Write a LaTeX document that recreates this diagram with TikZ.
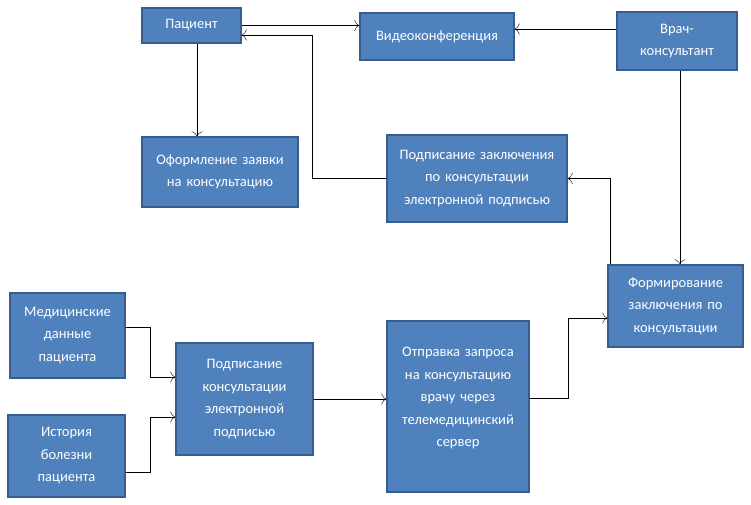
\documentclass[tikz,border=0pt]{standalone}
\usepackage{fontspec}
\setmainfont{Carlito}
\usepackage{xcolor}
\usetikzlibrary{positioning}
\usetikzlibrary{shapes, arrows.meta}
\definecolor{boxblue}{HTML}{4F81BD}
\definecolor{boxedge}{HTML}{385D8A}
\tikzstyle{block} = [rectangle, draw=boxedge, line width=1.3pt, fill=boxblue, text=white,
text centered, font=\fontsize{14.5}{22.5}\selectfont, inner sep=2pt]
\tikzstyle{line} = [draw, -{To[length=5pt, width=11pt]}]

\begin{document}
\begin{tikzpicture}[x=1pt, y=-1pt]
	\useasboundingbox (0,0) rectangle (751,504);
	
	% Place nodes
	\node [block, minimum width=99pt, minimum height=35pt]  (Patient) at (191.5,25.5) {Пациент};
	\node [block, minimum width=154pt, minimum height=47pt] (Videoconference) at (437,36.5) {Видеоконференция};
	\node [block, minimum width=120pt, minimum height=58pt, text width=110pt] (Doctor) at (677,41) {Врач-\\консультант};
	\node [block, minimum width=156pt, minimum height=70pt, text width=150pt] (Application) at (220,172) {Оформление заявки\\на консультацию};
	\node [block, minimum width=180pt, minimum height=87pt, text width=174pt] (Signing Conclusion) at (477,178.5) {Подписание заключения\\по консультации\\электронной подписью};
	\node [block, minimum width=135pt, minimum height=82pt, text width=130pt] (Forming Conclusion) at (675.5,306) {Формирование\\заключения по\\консультации};
	\node [block, minimum width=115pt, minimum height=85pt, text width=110pt] (Medical Data) at (67.5,335.5) {Медицинские\\данные\\пациента};
	\node [block, minimum width=117pt, minimum height=82pt, text width=110pt] (Case History) at (66.5,456) {История\\болезни\\пациента};
	\node [block, minimum width=137pt, minimum height=112pt, text width=130pt] (Signing Consultation) at (244.5,399) {Подписание\\консультации\\электронной\\подписью};
	\node [block, minimum width=142pt, minimum height=171pt, text width=136pt] (Request) at (458,406.5) {Отправка запроса\\на консультацию\\врачу через\\телемедицинский\\сервер\\[-4pt]\mbox{}};
	
	%Draw edges
	\path [line] (Patient.east) -- (Patient.east -| Videoconference.west);
	\path [line] ([yshift=12pt]Doctor.west) -- ([yshift=12pt]Doctor.west -| Videoconference.east);
	\path [line] ([xshift=5.5pt]Patient.south) -- ([xshift=5.5pt]Patient.south |- Application.north);
	\path [line] (Signing Conclusion.west) -- ++(-74,0) |- ([yshift=-9.5pt]Patient.east);
	\path [line] ([xshift=3pt]Doctor.south) -- ([xshift=3pt]Doctor.south |- Forming Conclusion.north);
	\path [line] ([xshift=-65.5pt]Forming Conclusion.north) |- (Signing Conclusion.east);
	\path [line] ([yshift=8.5pt]Medical Data.east) -- ++(25,0) |- ([yshift=22pt]Signing Consultation.west);
	\path [line] ([yshift=-16pt]Case History.east) -- ++(25,0) |- ([yshift=-18pt]Signing Consultation.west);
	\path [line] (Signing Consultation.east) -- (Signing Consultation.east -| Request.west);
	\path [line] ([yshift=8.5pt]Request.east) -- ++(39,0) |- ([yshift=-12pt]Forming Conclusion.west);
	
\end{tikzpicture}
\end{document}
